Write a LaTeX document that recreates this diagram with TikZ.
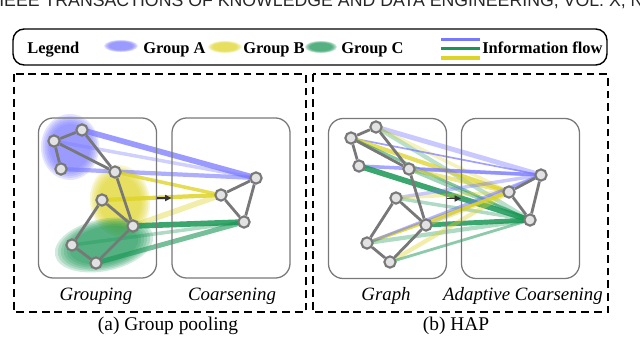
\documentclass[tikz,border=0pt]{standalone}
\usepackage{fontspec}
\setmainfont{Liberation Serif}
\newfontfamily\hdrfont{Liberation Sans}
\usetikzlibrary{arrows.meta, positioning}
\definecolor{grpblue}{RGB}{120, 120, 255}
\definecolor{grpyellow}{RGB}{222, 212, 40}
\definecolor{grpgreen}{RGB}{25, 150, 85}
\definecolor{edgegray}{RGB}{120, 120, 120}
\definecolor{nodefill}{RGB}{226, 226, 226}
\pgfdeclarelayer{blobs}
\pgfdeclarelayer{flows}
\pgfsetlayers{blobs,flows,main}

% soft group region: colour, centre, x radius, y radius, angle
\newcommand{\groupblob}[5]{%
  \foreach \k in {0,...,5} {
    \fill[#1, opacity=0.2, shift={#2}, rotate=#5] (0,0)
      ellipse [x radius={#3*(1-0.06*\k)}, y radius={#4*(1-0.06*\k)}];
  }
}

\begin{document}
\begin{tikzpicture}[
  x=0.025cm, y=-0.025cm,
  gnode/.style={circle, draw=edgegray, fill=nodefill, line width=1.5pt, minimum size=8pt, inner sep=0pt},
  gedge/.style={draw=edgegray, line width=2pt},
  flowline/.style={line width=#1},
  stagebox/.style={draw=edgegray, line width=0.9pt, rounded corners=10.5pt, minimum width=2.95cm, minimum height=4cm, inner sep=0pt},
  panel/.style={dashed, line width=1.1pt, dash pattern=on 5.5pt off 3.5pt},
  lbl/.style={font=\fontsize{13.4}{15}\selectfont\itshape, anchor=base, inner sep=0pt},
  captxt/.style={font=\fontsize{13.8}{16}\selectfont, anchor=base, inner sep=0pt},
  leg/.style={font=\fontsize{11.7}{14}\selectfont\bfseries, anchor=base west, inner sep=0pt},
]
  \useasboundingbox (0,0) rectangle (640,337);

  % Running head (cut by the page edge)
  \begin{scope}
    \clip (0,0) rectangle (640,337);
    \node[font=\hdrfont\fontsize{12.6}{14}\selectfont, anchor=base west, inner sep=0pt, text=black!85] (runhead) at (-1,6)
      {IEEE TRANSACTIONS OF KNOWLEDGE AND DATA ENGINEERING, VOL. X, NO. X};
  \end{scope}

  % Legend
  \draw[line width=1pt, rounded corners=8pt] (13,29) rectangle (607,65);
  \node[leg] (legtitle) at (27,53.5) {Legend};
  \groupblob{grpblue}{(121,46)}{17}{6}{0}
  \node[leg] (lega) at (143,53.5) {Group A};
  \groupblob{grpyellow}{(225,47)}{17}{6}{0}
  \node[leg] (legb) at (243,53.5) {Group B};
  \groupblob{grpgreen}{(321,47)}{16}{6}{0}
  \node[leg] (legc) at (341,53.5) {Group C};
  \draw[grpblue, line width=2.2pt] (441,39.5) -- (480,39.5);
  \draw[grpgreen, line width=2.2pt] (441,48.5) -- (480,48.5);
  \draw[grpyellow, line width=2.2pt] (441,58) -- (480,58);
  \node[leg] (legflow) at (482,53.5) {Information flow};

  % Panels
  \draw[panel] (14,74) rectangle (306,312);
  \draw[panel] (313,74) rectangle (608,312);

  % Stage boxes
  \node[stagebox] (grpbox) at (97.5,198) {};
  \node[stagebox] (coabox) at (231,198) {};
  \node[stagebox] (graphbox) at (387.5,198.5) {};
  \node[stagebox] (adabox) at (520.5,198.5) {};
  \draw[-{Triangle[length=4.5pt, width=4.5pt]}, black!80, line width=0.8pt] (grpbox.east) -- (coabox.west);
  \draw[-{Triangle[length=4.5pt, width=4.5pt]}, black!80, line width=0.8pt] (graphbox.east) -- (adabox.west);

  % (a) graph and coarsened graph
  \foreach \i/\x/\y in {1/82/130, 2/54/141, 3/61/169, 4/115/172, 5/102/200, 6/133/226, 7/72/245, 8/96/263} {
    \node[gnode] (a\i) at (\x,\y) {};
  }
  \foreach \i/\x/\y in {1/256/178, 2/221/195, 3/244/222} {
    \node[gnode] (ac\i) at (\x,\y) {};
  }

  % (b) graph and coarsened graph
  \foreach \i/\x/\y in {1/376/127, 2/351/138, 3/359/166, 4/409/169, 5/396/198, 6/426/225, 7/367/243, 8/390/262} {
    \node[gnode] (b\i) at (\x,\y) {};
  }
  \foreach \i/\x/\y in {1/541/175, 2/509/192, 3/530/220} {
    \node[gnode] (bc\i) at (\x,\y) {};
  }

  % Edges
  \foreach \u/\v in {1/2, 2/3, 1/4, 2/4, 4/6, 5/6, 5/7, 7/8, 8/6} {
    \draw[gedge] (a\u) -- (a\v);
    \draw[gedge] (b\u) -- (b\v);
  }
  \foreach \u/\v in {1/2, 2/3, 3/1} {
    \draw[gedge] (ac\u) -- (ac\v);
    \draw[gedge] (bc\u) -- (bc\v);
  }

  % Groups
  \begin{pgfonlayer}{blobs}
    \groupblob{grpblue}{(70,147)}{29}{33}{0}
    \groupblob{grpyellow}{(120,201)}{30}{36}{8}
    \groupblob{grpgreen}{(104,245)}{50}{26}{12}
  \end{pgfonlayer}

  % Information flow
  \begin{pgfonlayer}{flows}
    \foreach \s/\t/\c/\w/\o in {
      a1/ac1/grpblue/4pt/.75, a2/ac1/grpblue/2.5pt/.35, a3/ac1/grpblue/3pt/.6,
      a4/ac2/grpyellow/2.5pt/.8, a5/ac2/grpyellow/3pt/.85, a6/ac2/grpyellow/4pt/.4,
      a6/ac3/grpgreen/4pt/.85, a7/ac3/grpgreen/2.5pt/.35, a8/ac3/grpgreen/3.5pt/.6} {
      \draw[flowline=\w, \c, opacity=\o] (\s.center) -- (\t.center);
    }
    \foreach \s/\t/\c/\w/\o in {
      b1/bc1/grpblue/3.5pt/.4, b1/bc3/grpgreen/3pt/.3, b1/bc2/grpyellow/2.5pt/.3,
      b2/bc1/grpblue/1.2pt/.7, b2/bc2/grpyellow/3pt/.75, b2/bc3/grpgreen/2pt/.55,
      b3/bc1/grpblue/2.5pt/.65, b3/bc3/grpgreen/4pt/.85,
      b4/bc1/grpblue/2.5pt/.45, b4/bc2/grpyellow/3pt/.55, b4/bc3/grpgreen/2.5pt/.4,
      b5/bc1/grpblue/2.5pt/.4, b5/bc3/grpgreen/2.5pt/.35, b5/bc2/grpyellow/2.5pt/.35,
      b6/bc3/grpgreen/3.5pt/.85, b6/bc1/grpblue/2pt/.4, b6/bc2/grpyellow/3pt/.4,
      b7/bc2/grpyellow/2.5pt/.85, b7/bc1/grpblue/2pt/.55, b7/bc3/grpgreen/3pt/.35,
      b8/bc2/grpyellow/3pt/.4, b8/bc3/grpgreen/2pt/.5} {
      \draw[flowline=\w, \c, opacity=\o] (\s.center) -- (\t.center);
    }
  \end{pgfonlayer}

  % Labels
  \node[lbl] (grplbl) at (96,300) {Grouping};
  \node[lbl] (coalbl) at (232,300) {Coarsening};
  \node[lbl] (graphlbl) at (386,300) {Graph};
  \node[lbl] (adalbl) at (523,300) {Adaptive Coarsening};
  \node[captxt] (capa) at (168,330) {(a) Group pooling};
  \node[captxt] (capb) at (456,330) {(b) HAP};
\end{tikzpicture}
\end{document}
